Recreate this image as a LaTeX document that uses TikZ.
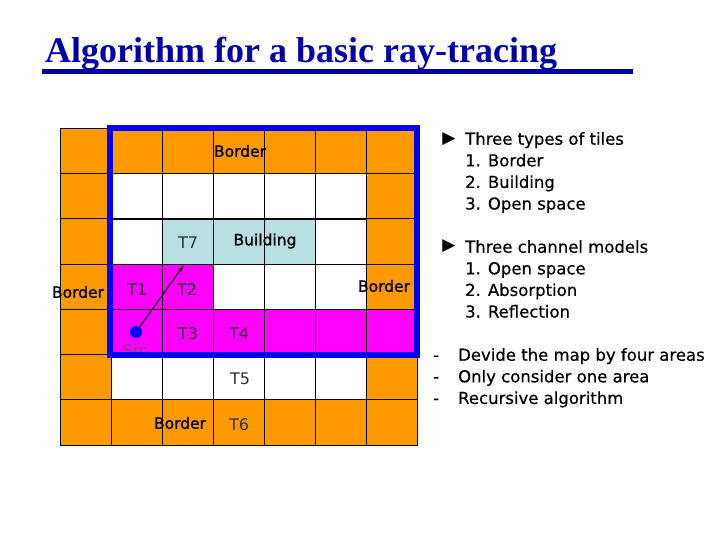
\documentclass[tikz,border=0pt]{standalone}
\usepackage{fontspec}
\setmainfont{DejaVu Sans}
\newfontfamily\titlefont{Liberation Serif}
\newfontfamily\heavyfont{DejaVu Sans}[FakeBold=1.2]
\newfontfamily\listfont{DejaVu Sans}[FakeBold=0.5]
\usetikzlibrary{arrows.meta}

\definecolor{cO}{RGB}{255,153,0}
\definecolor{cW}{RGB}{255,255,255}
\definecolor{cB}{RGB}{183,222,225}
\definecolor{cM}{RGB}{255,0,255}
\definecolor{frameblue}{RGB}{0,0,245}
\definecolor{titleblue}{RGB}{0,0,170}

\begin{document}
\begin{tikzpicture}[
        x=1pt, y=-1pt,
        tile/.style={draw=black, line width=0.8pt},
        tilename/.style={font=\heavyfont\fontsize{15.5}{18}\selectfont, inner sep=0pt},
        tlabel/.style={font=\fontsize{16}{18}\selectfont, text=black!80, inner sep=0pt},
        frame/.style={draw=frameblue, line width=6pt},
        ray/.style={draw=violet!45!black, line width=1.4pt, -{Latex[length=7pt,width=5pt]}},
        marker/.style={font=\fontsize{17}{19}\selectfont, inner sep=0pt},
        listtext/.style={font=\listfont\fontsize{16.5}{21.6}\selectfont, align=left, anchor=north west, inner sep=0pt}
    ]
        \useasboundingbox (0,0) rectangle (720,540);

        % title
        \node[anchor=base west, inner sep=0pt, text=titleblue, font=\titlefont\bfseries\fontsize{36}{40}\selectfont] (title) at (45,63) {Algorithm for a basic ray-tracing};
        \fill[titleblue] (42,69) rectangle (633,74);

        % tiles
        \foreach \row [count=\j from 0] in {
            {O,O,O,O,O,O,O},
            {O,W,W,W,W,W,O},
            {O,W,B,B,B,W,O},
            {O,M,M,W,W,W,O},
            {O,M,M,M,M,M,M},
            {O,W,W,W,W,W,O},
            {O,O,O,O,O,O,O}}
        {
            \foreach \c [count=\i from 0] in \row
                \filldraw[tile, fill=c\c] (60+51*\i,128+45.3*\j) rectangle ++(51,45.3);
        }
        \draw[line width=1.6pt] (110,219) -- (366,219);

        % tile names
        \node[tilename] (bordertop) at (240,151) {Border};
        \node[tilename] (borderleft) at (78,292) {Border};
        \node[tilename] (borderright) at (384,286) {Border};
        \node[tilename] (borderbottom) at (180,423) {Border};
        \node[tilename] (building) at (265,241) {Building};
        \node[tlabel] (t7) at (188,243) {T7};
        \node[tlabel] (t1) at (137,290) {T1};
        \node[tlabel] (t2) at (187,290) {T2};
        \node[tlabel] (t3) at (188,334) {T3};
        \node[tlabel] (t4) at (239,334) {T4};
        \node[tlabel] (t5) at (240,379) {T5};
        \node[tlabel] (t6) at (239,425) {T6};

        % source and ray
        \node[tlabel, text=violet!50!gray] (srclabel) at (135,351) {Src};
        \node[circle, fill=frameblue, inner sep=0pt, minimum size=12pt] (src) at (136,332) {};
        \coordinate (raytip) at (184,265);
        \draw[ray] (src) -- (raytip);

        % one area
        \draw[frame] (110,128) rectangle (417,355);

        % notes
        \node[marker] (mark1) at (449,139) {▶};
        \node[listtext] (tiles) at (465,132) {Three types of tiles\\1. Border\\2. Building\\3. Open space};
        \node[marker] (mark2) at (449,246) {▶};
        \node[listtext] (models) at (465,240) {Three channel models\\1. Open space\\2. Absorption\\3. Reflection};
        \node[listtext] (notes) at (433,348) {-\hspace{19pt}Devide the map by four areas\\-\hspace{19pt}Only consider one area\\-\hspace{19pt}Recursive algorithm};
    \end{tikzpicture}
\end{document}
